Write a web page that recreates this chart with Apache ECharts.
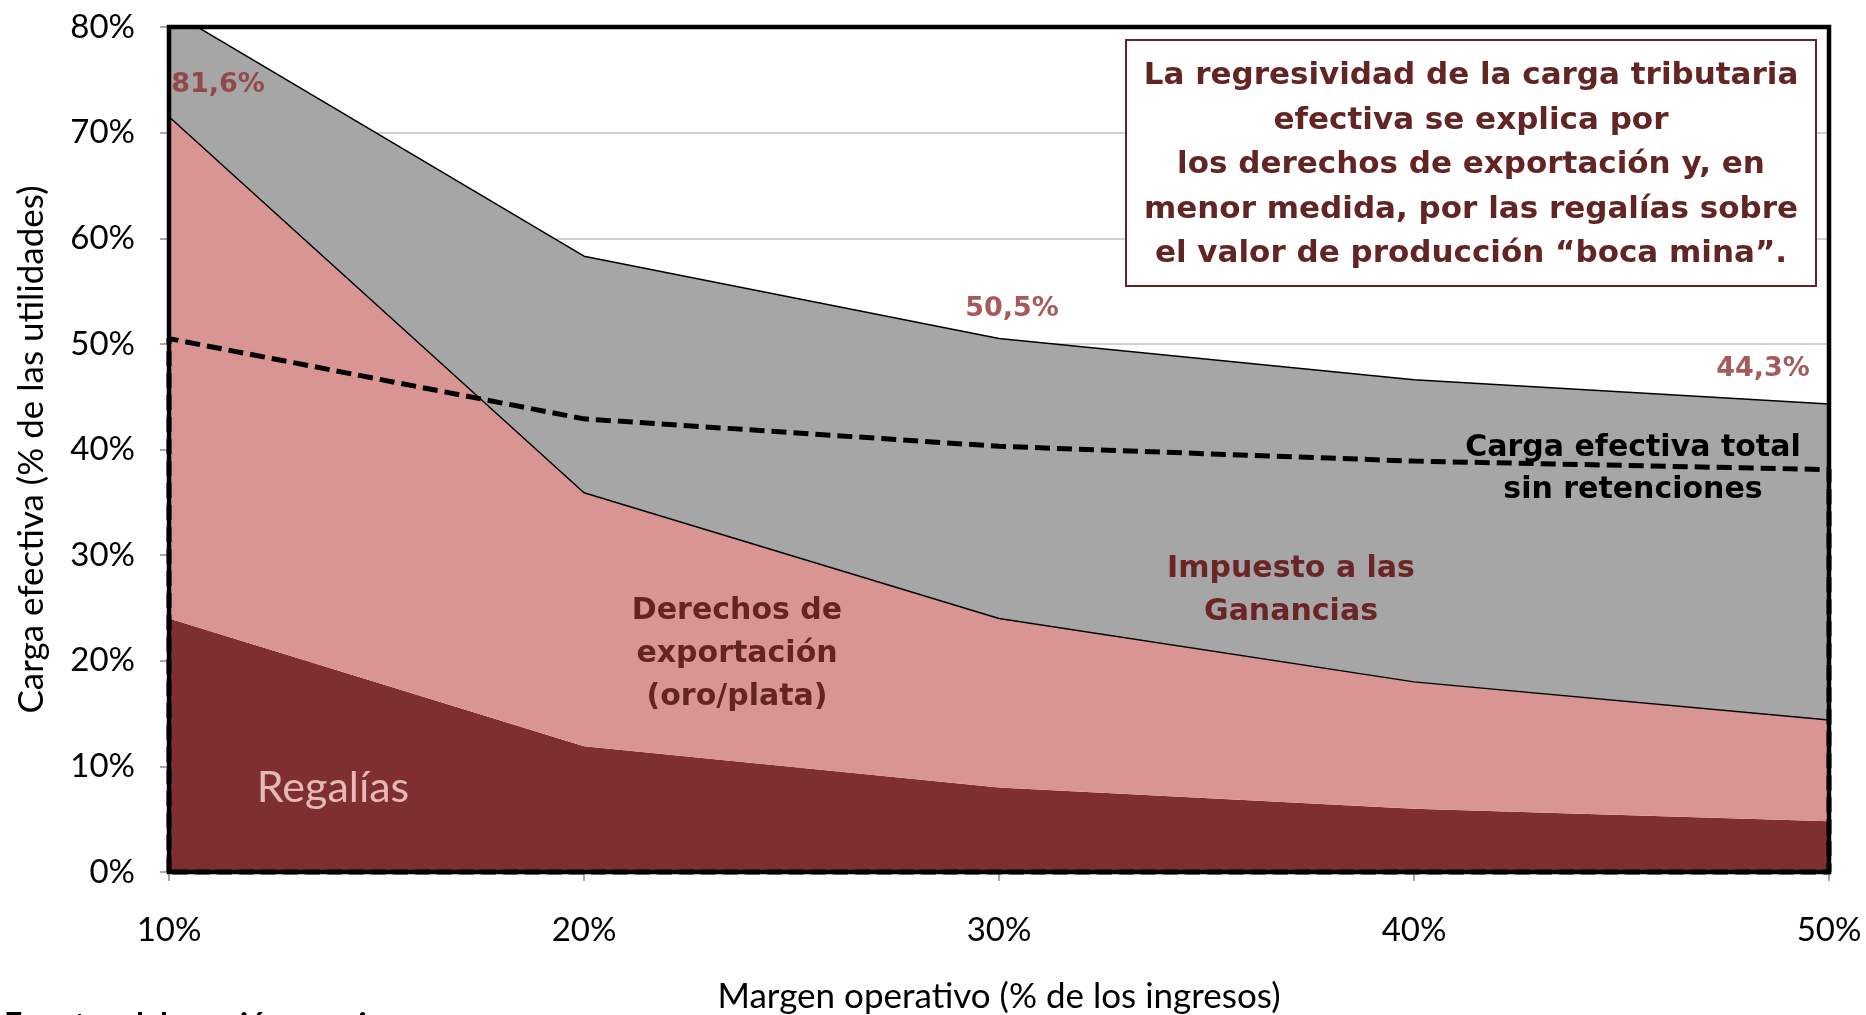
<!DOCTYPE html>
<html>
<head>
<meta charset="utf-8">
<script src="https://cdn.jsdelivr.net/npm/echarts@6/dist/echarts.min.js"></script>
<style>
  html, body { margin: 0; padding: 0; background: #ffffff; }
  #chart { width: 1866px; height: 1015px; }
</style>
</head>
<body>
<div id="chart"></div>
<script>
// Margen operativo (% de los ingresos)
const margen = ['10%', '20%', '30%', '40%', '50%'];
// Componentes apilados de la carga efectiva (% de las utilidades)
const regalias = [24.0, 11.9, 8.0, 6.0, 4.8];
const derechos = [47.5, 24.0, 16.0, 12.0, 9.6];
const ganancias = [10.1, 22.4, 26.5, 28.6, 29.9];
// Carga efectiva total sin retenciones
const sinRetenciones = [50.5, 42.9, 40.3, 38.9, 38.1];
// Puntos cuyo total se rotula
const rotulados = [0, 2, 4];
const rotuloOffsets = [[49, 75], [13, -30], [-66, -35]];

const total = margen.map((_, i) => regalias[i] + derechos[i] + ganancias[i]);
const pct = v => v.toFixed(1).replace('.', ',') + '%';
const ultimo = margen.length - 1;

// Contorno punteado: sube por el borde izquierdo, sigue la curva y vuelve por la base
const contorno = [[margen[0], 0]]
  .concat(margen.map((m, i) => [m, sinRetenciones[i]]))
  .concat([[margen[ultimo], 0], [margen[0], 0]]);

const BOLD = '"DejaVu Sans", sans-serif';
const REG = 'Lato, "Open Sans", sans-serif';

const chart = echarts.init(document.getElementById('chart'));

chart.setOption({
  animation: false,
  backgroundColor: '#ffffff',
  grid: {
    left: 169, right: 37, top: 27, bottom: 143,
    outerBoundsMode: 'none', containLabel: false,
    show: true, borderColor: '#000000', borderWidth: 4.5, backgroundColor: 'transparent',
    z: 5
  },
  xAxis: {
    type: 'category', data: margen, boundaryGap: false,
    name: 'Margen operativo (% de los ingresos)',
    nameLocation: 'middle', nameGap: 107,
    nameTextStyle: { fontFamily: REG, fontSize: 35, color: '#000000' },
    axisLine: { show: false },
    axisTick: { show: true, length: 9, alignWithLabel: true, lineStyle: { color: '#8c8c8c', width: 1.5 } },
    axisLabel: { fontFamily: REG, fontSize: 33, color: '#000000', margin: 42 },
    splitLine: { show: false }
  },
  yAxis: {
    type: 'value', min: 0, max: 80, interval: 10,
    name: 'Carga efectiva (% de las utilidades)',
    nameLocation: 'middle', nameGap: 120,
    nameTextStyle: { fontFamily: REG, fontSize: 35, color: '#000000' },
    axisLine: { show: false },
    axisTick: { show: true, length: 9, lineStyle: { color: '#8c8c8c', width: 1.5 } },
    axisLabel: { formatter: '{value}%', fontFamily: REG, fontSize: 33, color: '#000000', margin: 34 },
    splitLine: { show: true, lineStyle: { color: '#d0d0d0', width: 2 } }
  },
  series: [
    {
      name: 'Regalías', type: 'line', stack: 'carga', data: regalias,
      symbol: 'none', lineStyle: { width: 0 },
      areaStyle: { color: '#7f2f32', opacity: 1 }, z: 2
    },
    {
      name: 'Derechos de exportación', type: 'line', stack: 'carga', data: derechos,
      symbol: 'none', lineStyle: { width: 1.5, color: '#000000' },
      areaStyle: { color: '#d99594', opacity: 1 }, z: 2
    },
    {
      name: 'Impuesto a las Ganancias', type: 'line', stack: 'carga', data: ganancias,
      symbol: 'none', lineStyle: { width: 1.5, color: '#000000' },
      areaStyle: { color: '#a6a6a6', opacity: 1 }, z: 2
    },
    {
      name: 'Carga efectiva total sin retenciones', type: 'line', data: contorno,
      symbol: 'none', clip: false,
      lineStyle: { width: 5, color: '#000000', type: [15, 7] }, z: 3
    },
    {
      name: 'Total', type: 'scatter', clip: false, symbolSize: 0, z: 10,
      data: rotulados.map((i, k) => ({
        value: [margen[i], total[i]],
        label: { offset: rotuloOffsets[k] }
      })),
      label: {
        show: true, position: 'inside',
        formatter: p => pct(p.value[1]),
        fontFamily: BOLD, fontWeight: 'bold', fontSize: 27, color: '#8f3232'
      }
    }
  ],
  graphic: [
    {
      type: 'rect', z: 20,
      shape: { x: 1126, y: 40, width: 690, height: 246 },
      style: { fill: '#ffffff', stroke: '#632523', lineWidth: 2 }
    },
    {
      type: 'text', z: 21, x: 1471, y: 165,
      style: {
        text: 'La regresividad de la carga tributaria\nefectiva se explica por\nlos derechos de exportación y, en\nmenor medida, por las regalías sobre\nel valor de producción “boca mina”.',
        align: 'center', verticalAlign: 'middle', lineHeight: 44.5,
        font: 'bold 31px ' + BOLD, fill: '#632523'
      }
    },
    {
      type: 'text', z: 21, x: 1291, y: 591,
      style: {
        text: 'Impuesto a las\nGanancias', align: 'center', verticalAlign: 'middle', lineHeight: 43,
        font: 'bold 30px ' + BOLD, fill: '#6b2526'
      }
    },
    {
      type: 'text', z: 21, x: 737, y: 654,
      style: {
        text: 'Derechos de\nexportación\n(oro/plata)', align: 'center', verticalAlign: 'middle', lineHeight: 43,
        font: 'bold 30px ' + BOLD, fill: '#632523'
      }
    },
    {
      type: 'text', z: 21, x: 1633, y: 469,
      style: {
        text: 'Carga efectiva total\nsin retenciones', align: 'center', verticalAlign: 'middle', lineHeight: 42,
        font: 'bold 30px ' + BOLD, fill: '#000000'
      }
    },
    {
      type: 'text', z: 21, x: 333, y: 788,
      style: {
        text: 'Regalías', align: 'center', verticalAlign: 'middle',
        font: '43px ' + REG, fill: '#e6b8b7'
      }
    },
    {
      type: 'text', z: 21, x: 4, y: 1010,
      style: {
        text: 'Fuente: elaboración propia', align: 'left', verticalAlign: 'top',
        font: 'bold 32px ' + REG, fill: '#000000'
      }
    }
  ]
});
</script>
</body>
</html>
